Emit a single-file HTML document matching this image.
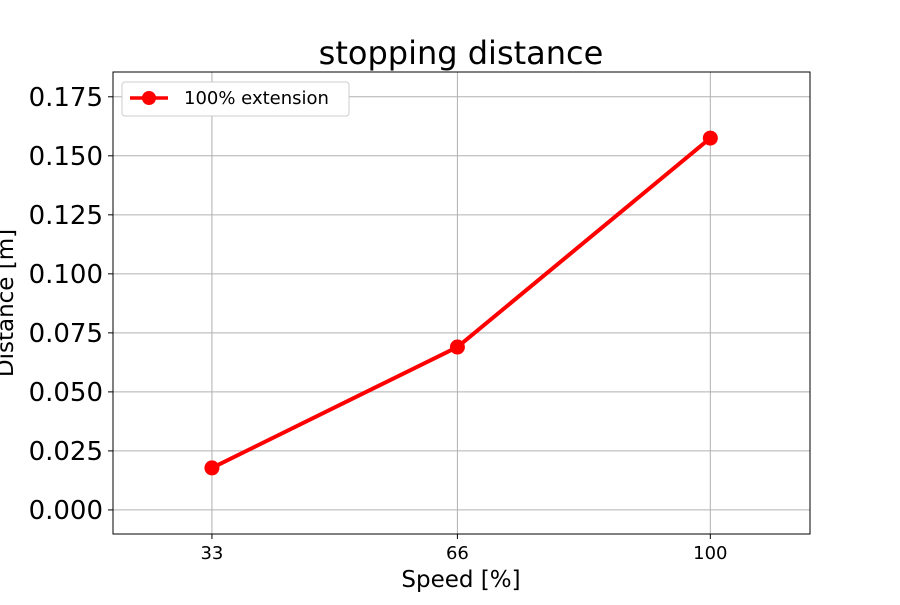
<!DOCTYPE html>
<html><head><meta charset="utf-8"><style>
body{margin:0;background:#fff;}
svg text{font-family:"DejaVu Sans","Liberation Sans",sans-serif;}
</style></head><body>
<svg id="chart" width="900" height="600" xmlns="http://www.w3.org/2000/svg">
<rect width="900" height="600" fill="#fff"/>
<g id="grid"></g>
<g id="yticks"></g>
<g id="xticks"></g>
<g id="series"></g>
<rect x="113" y="72" width="697" height="462" fill="none" stroke="#000" stroke-width="1"/>
<text x="461" y="64" font-size="32" text-anchor="middle">stopping distance</text>
<text x="461" y="587" font-size="23" text-anchor="middle">Speed [%]</text>
<text transform="translate(13,303) rotate(-90)" font-size="23" text-anchor="middle">Distance [m]</text>
<g>
<rect x="122" y="82" width="227" height="34" rx="3" fill="#fff" stroke="#ccc"/>
<line x1="130" y1="98" x2="168" y2="98" stroke="#f00" stroke-width="3.5"/>
<circle cx="149" cy="98" r="7" fill="#f00"/>
<text x="184" y="104" font-size="18">100% extension</text>
</g>
</svg>
<script>
const xValues=[33,66,100];
const yValues=[0.0178,0.069,0.1575];
const yTicks=[0,0.025,0.05,0.075,0.1,0.125,0.15,0.175];
const yTickLabels=["0.000","0.025","0.050","0.075","0.100","0.125","0.150","0.175"];
const xTickLabels=["33","66","100"];
const L=113,R=810,T=72,B=534;
const xMin=19.7,xMax=113.4,yMin=-0.0102,yMax=0.1855;
const sx=v=>L+(v-xMin)/(xMax-xMin)*(R-L);
const sy=v=>B-(v-yMin)/(yMax-yMin)*(B-T);
const NS="http://www.w3.org/2000/svg";
function mk(tag,attrs,parent){const e=document.createElementNS(NS,tag);for(const k in attrs)e.setAttribute(k,attrs[k]);parent.appendChild(e);return e;}
const grid=document.getElementById('grid'),yt=document.getElementById('yticks'),xt=document.getElementById('xticks'),ser=document.getElementById('series');
yTicks.forEach((v,i)=>{const y=sy(v);
const g=mk('line',{x1:L,x2:R,y1:y,y2:y,stroke:'#b0b0b0','stroke-width':1},grid);

mk('line',{x1:L-5,x2:L,y1:y,y2:y,stroke:'#000'},yt);
const t=mk('text',{x:L-10,y:y+9,'font-size':26,'text-anchor':'end'},yt);t.textContent=yTickLabels[i];
});
xValues.forEach((v,i)=>{const x=sx(v);
const g=mk('line',{x1:x,x2:x,y1:T,y2:B,stroke:'#b0b0b0','stroke-width':1},grid);

mk('line',{x1:x,x2:x,y1:B,y2:B+5,stroke:'#000'},xt);
const t=mk('text',{x:x,y:B+25,'font-size':18,'text-anchor':'middle'},xt);t.textContent=xTickLabels[i];
});
const pts=xValues.map((v,i)=>sx(v)+','+sy(yValues[i])).join(' ');
const pl=mk('polyline',{points:pts,fill:'none',stroke:'#f00','stroke-width':4},ser);

xValues.forEach((v,i)=>{const c=mk('circle',{cx:sx(v),cy:sy(yValues[i]),r:7.5,fill:'#f00'},ser);
});
</script>
</body></html>
